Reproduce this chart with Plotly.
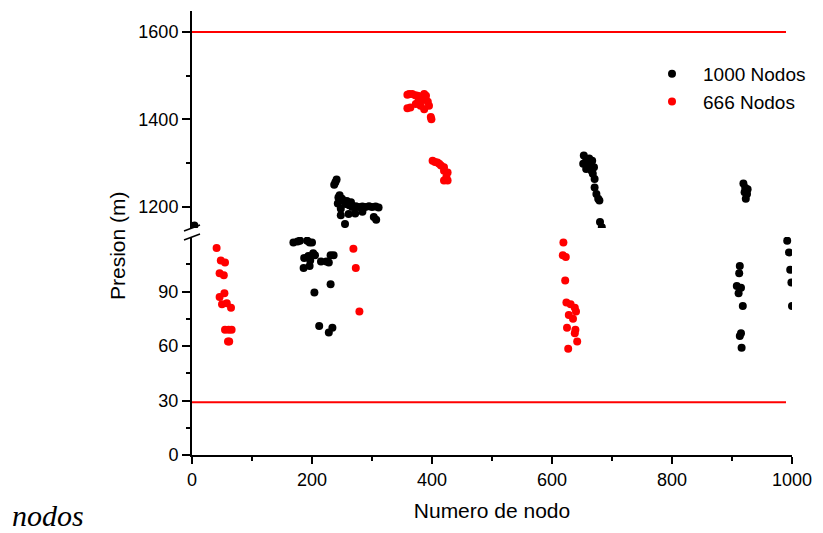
import plotly.graph_objects as go

# ---- data: 1000 Nodos (black) ----
b_up_x = [4, 237, 241, 239, 244, 250, 246, 253, 256, 243, 258, 265, 262, 267, 273, 278, 284, 289, 295, 300, 306, 311,
          248, 248, 261, 272, 284, 255, 303, 307,
          653, 652, 657, 660, 664, 667, 662, 670, 657, 666, 668, 671, 671, 674, 677, 679, 680, 683,
          919, 926, 921, 925, 923, 922]
b_up_y = [1157, 1250, 1262, 1256, 1221, 1218, 1226, 1212, 1206, 1207, 1213, 1210, 1203, 1199, 1201, 1199, 1200, 1199, 1201, 1199, 1200, 1198,
          1195, 1180, 1183, 1184, 1188, 1160, 1176, 1170,
          1317, 1298, 1305, 1301, 1298, 1305, 1310, 1290, 1286, 1282, 1275, 1263, 1244, 1229, 1218, 1214, 1165, 1153,
          1253, 1240, 1233, 1229, 1218, 1243]
b_lo_x = [169, 176, 180, 192, 196, 200, 187, 194, 202, 197, 186, 196, 205, 215, 224, 231, 236, 228, 204, 231, 212, 228, 234,
          913, 912, 908, 915, 911, 918, 915, 913, 916,
          992, 995, 997, 999, 1000]
b_lo_y = [117, 117.5, 118, 118, 117, 117, 108.5, 109.6, 111, 107, 103, 104, 110, 106.5, 106.5, 110, 110, 106, 89.5, 94, 71, 67.5, 70,
          104, 100, 93, 92, 89, 82, 67, 65.5, 59,
          118, 111.5, 102, 95, 82]

# ---- data: 666 Nodos (red) ----
r_up_x = [359, 362, 367, 372, 376, 380, 387, 390, 359, 364, 373, 377, 381, 387, 385, 395, 393, 398, 399,
          401, 405, 409, 412, 415, 420, 420, 426, 420, 426, 424]
r_up_y = [1456, 1458, 1458, 1455, 1454, 1452, 1458, 1454, 1425, 1427, 1435, 1440, 1431, 1423, 1445, 1431, 1440, 1405, 1400,
          1305, 1302, 1301, 1298, 1294, 1290, 1282, 1278, 1260, 1260, 1268]
r_lo_x = [41, 48, 55, 46, 53, 46, 54, 50, 58, 65, 55, 61, 66, 62, 60,
          269, 273, 279,
          619, 618, 623, 622, 624, 631, 638, 640, 628, 635, 625, 638, 639, 642, 627]
r_lo_y = [114, 107, 106, 100, 99, 87, 89, 83, 83.5, 81, 69, 69, 69, 62.5, 62.5,
          113.5, 103, 79,
          117, 110, 109, 96, 84, 83, 81, 79, 77, 75, 70, 67, 69, 62.5, 58.5]

# limit lines
lim_x = [0, 990]
lim_hi = [1600, 1600]
lim_lo = [29, 29]

names = ["1000 Nodos", "666 Nodos"]

FONT = "Liberation Sans, Arial, sans-serif"
fig = go.Figure()

mk = 8
fig.add_trace(go.Scatter(x=lim_x, y=lim_hi, mode="lines", line=dict(color="#ff0000", width=2),
                         yaxis="y2", showlegend=False, hoverinfo="skip"))
fig.add_trace(go.Scatter(x=lim_x, y=lim_lo, mode="lines", line=dict(color="#ff0000", width=2),
                         yaxis="y", showlegend=False, hoverinfo="skip"))
fig.add_trace(go.Scatter(x=b_up_x, y=b_up_y, mode="markers", marker=dict(color="black", size=mk),
                         yaxis="y2", name=names[0], legendgroup="b", showlegend=True))
fig.add_trace(go.Scatter(x=b_lo_x, y=b_lo_y, mode="markers", marker=dict(color="black", size=mk),
                         yaxis="y", name=names[0], legendgroup="b", showlegend=False))
fig.add_trace(go.Scatter(x=r_up_x, y=r_up_y, mode="markers", marker=dict(color="#ff0000", size=mk),
                         yaxis="y2", name=names[1], legendgroup="r", showlegend=True))
fig.add_trace(go.Scatter(x=r_lo_x, y=r_lo_y, mode="markers", marker=dict(color="#ff0000", size=mk),
                         yaxis="y", name=names[1], legendgroup="r", showlegend=False))

W, H = 823, 533
L, R, T, B = 192, 31, 11, 78
PW, PH = W - L - R, H - T - B
def py(p):  # pixel y -> paper
    return (H - B - p) / PH
def px(p):
    return (p - L) / PW

lo_top = py(237)
up_bot = py(228)

axis_common = dict(showline=True, linecolor="black", linewidth=2, ticks="outside", tickcolor="black",
                   tickwidth=1.5, ticklen=8, showgrid=False, zeroline=False,
                   tickfont=dict(family=FONT, size=18, color="black"))

fig.update_layout(
    width=W, height=H,
    margin=dict(l=L, r=R, t=T, b=B),
    paper_bgcolor="white", plot_bgcolor="white",
    xaxis=dict(range=[0, 1000], tickvals=[0, 200, 400, 600, 800, 1000],
               minor=dict(tickvals=[100, 300, 500, 700, 900], ticklen=4, ticks="outside", tickcolor="black"),
               title=dict(text="Numero de nodo", font=dict(family=FONT, size=21, color="black"), standoff=15),
               anchor="y", **{**axis_common, "ticklen": 7}),
    yaxis=dict(domain=[0, lo_top], range=[0, 120], tickvals=[0, 30, 60, 90],
               minor=dict(tickvals=[15, 45, 75, 105], ticklen=4, ticks="outside", tickcolor="black"),
               anchor="x", **axis_common),
    yaxis2=dict(domain=[up_bot, 1], range=[1151, 1648], tickvals=[1200, 1400, 1600],
                minor=dict(tickvals=[1300, 1500], ticklen=4, ticks="outside", tickcolor="black"),
                anchor="x", **axis_common),
    legend=dict(x=px(641), y=py(55), xanchor="left", yanchor="top", bgcolor="rgba(0,0,0,0)",
                font=dict(family=FONT, size=19, color="black"), itemwidth=52, tracegroupgap=0),
    showlegend=True,
)

# break marks
for (x0, y0, x1, y1) in [(184, 240, 200, 234), (184, 231, 200, 225)]:
    fig.add_shape(type="line", xref="paper", yref="paper", x0=px(x0), y0=py(y0), x1=px(x1), y1=py(y1),
                  line=dict(color="black", width=1.5))

fig.add_annotation(text="Presion (m)", xref="paper", yref="paper", x=px(117), y=py(246),
                   textangle=-90, showarrow=False, font=dict(family=FONT, size=21, color="black"),
                   xanchor="center", yanchor="middle")
fig.add_annotation(text="<i>nodos</i>", xref="paper", yref="paper", x=px(10), y=py(515),
                   showarrow=False, font=dict(family="Liberation Serif, Times New Roman, serif", size=30, color="black"),
                   xanchor="left", yanchor="middle")

fig.write_html("out.html")
